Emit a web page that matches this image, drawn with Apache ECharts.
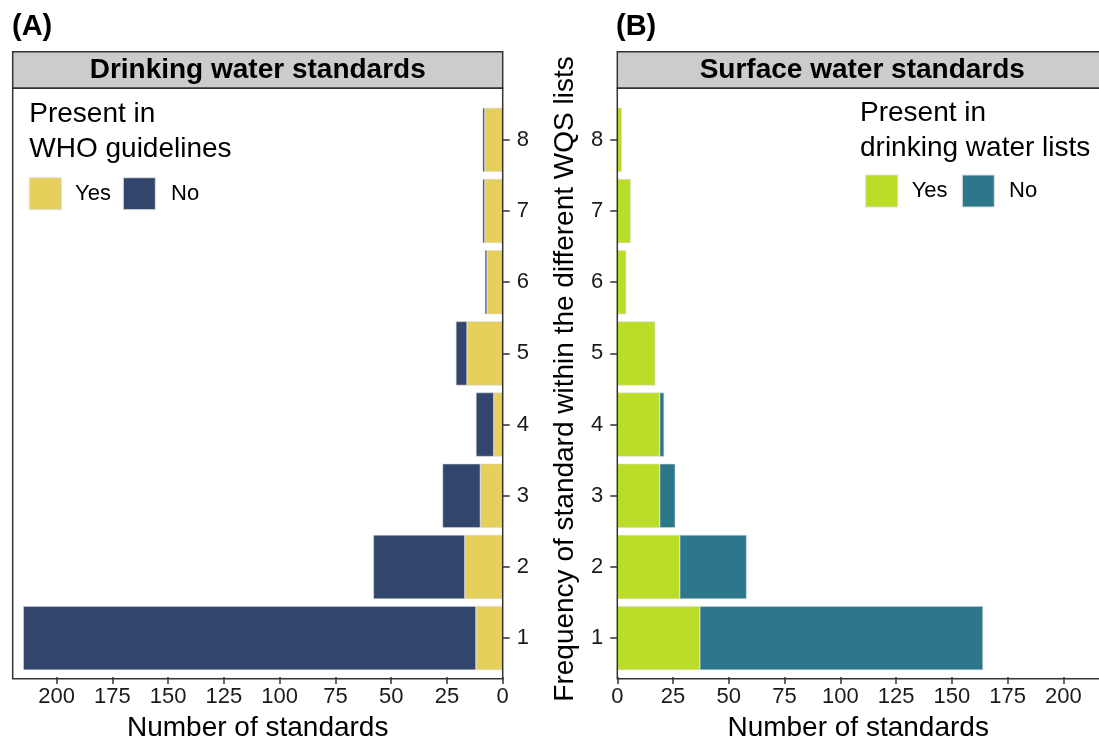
<!DOCTYPE html>
<html>
<head>
<meta charset="utf-8">
<script src="https://cdn.jsdelivr.net/npm/echarts@6/dist/echarts.min.js"></script>
<style>
html,body{margin:0;padding:0;background:#fff;}
#chart{width:1099px;height:747px;}
</style>
</head>
<body>
<div id="chart"></div>
<script>
// ---- data ----
const freqCategories = ['1','2','3','4','5','6','7','8'];
const drinkingYes = [12, 17, 10, 4, 16, 7, 8, 8];
const drinkingNo  = [203, 41, 17, 8, 5, 1, 1, 1];
const surfaceYes  = [37, 28, 19, 19, 17, 4, 6, 2];
const surfaceNo   = [127, 30, 7, 2, 0, 0, 0, 0];
const xTickValues = [0, 25, 50, 75, 100, 125, 150, 175, 200];

const FONT = '"Liberation Sans", Arial, Helvetica, sans-serif';
const C = { yes1:'#E6CF5A', no1:'#32466D', yes2:'#BADE28', no2:'#2C778C', frame:'#333333', strip:'#CCCCCC' };

const chart = echarts.init(document.getElementById('chart'), null, {renderer:'canvas'});

const panelTop = 88.3, panelBottom = 678.7;
const gridTop = 104.3, gridHeight = 571.1;
const leftX = 12.7, rightX = 617.3, panelW = 490;
const pxPerUnit = 2.23;
const xMaxLeft = panelW / pxPerUnit;
const rightVisibleW = 1099 - rightX;
const xMaxRight = rightVisibleW / pxPerUnit;

function nz(arr){ return arr.map(v => v === 0 ? null : v); }

function xAxisCfg(idx, inverse, maxV){
  return {
    type:'value', gridIndex: idx, min:0, max:maxV, inverse: inverse,
    offset: panelBottom - (gridTop + gridHeight),
    name:'Number of standards', nameLocation:'middle', nameGap: 37,
    nameTextStyle:{fontFamily:FONT, fontSize:28, color:'#000'},
    axisLine:{show:false},
    axisTick:{show:true, length:7, customValues:xTickValues, lineStyle:{color:C.frame, width:1.5}},
    axisLabel:{customValues:xTickValues, fontFamily:FONT, fontSize:22, color:'#1a1a1a', margin:9},
    splitLine:{show:false}
  };
}
function yAxisCfg(idx, pos){
  return {
    type:'category', gridIndex: idx, data: freqCategories, position: pos,
    axisLine:{show:false},
    axisTick:{show:true, alignWithLabel:true, length:7, lineStyle:{color:C.frame, width:1.5}},
    axisLabel:{fontFamily:FONT, fontSize:22, color:'#1a1a1a', margin:14},
    splitLine:{show:false}
  };
}
const barBorder = {borderColor:'rgba(215,215,215,0.9)', borderWidth:0.6};

function legendBlock(x, yTitle1, yTitle2, title2, keyX1, keyY, yesTextX, keyX2, noTextX, cYes, cNo){
  const els = [];
  els.push({type:'text', z:110, style:{text:'Present in', x:x, y:yTitle1, font:'28px '+FONT, fill:'#000', align:'left', verticalAlign:'middle', textAlign:'left', textVerticalAlign:'middle'}});
  els.push({type:'text', z:110, style:{text:title2, x:x, y:yTitle2, font:'28px '+FONT, fill:'#000', align:'left', verticalAlign:'middle', textAlign:'left', textVerticalAlign:'middle'}});
  els.push({type:'rect', z:110, shape:{x:keyX1, y:keyY, width:32, height:32}, style:{fill:cYes, stroke:'#dcdcdc', lineWidth:1}});
  els.push({type:'text', z:110, style:{text:'Yes', x:yesTextX, y:keyY+16, font:'22px '+FONT, fill:'#000', align:'left', verticalAlign:'middle', textAlign:'left', textVerticalAlign:'middle'}});
  els.push({type:'rect', z:110, shape:{x:keyX2, y:keyY, width:32, height:32}, style:{fill:cNo, stroke:'#dcdcdc', lineWidth:1}});
  els.push({type:'text', z:110, style:{text:'No', x:noTextX, y:keyY+16, font:'22px '+FONT, fill:'#000', align:'left', verticalAlign:'middle', textAlign:'left', textVerticalAlign:'middle'}});
  return els;
}

const graphics = [
  {type:'text', z:110, style:{text:'(A)', x:12, y:27, font:'bold 29px '+FONT, fill:'#000', align:'left', verticalAlign:'middle', textAlign:'left', textVerticalAlign:'middle'}},
  {type:'text', z:110, style:{text:'(B)', x:616, y:27, font:'bold 29px '+FONT, fill:'#000', align:'left', verticalAlign:'middle', textAlign:'left', textVerticalAlign:'middle'}},
  {type:'rect', z:105, shape:{x:leftX, y:51.7, width:panelW, height:panelTop-51.7}, style:{fill:C.strip, stroke:C.frame, lineWidth:1.5}},
  {type:'rect', z:105, shape:{x:rightX, y:51.7, width:panelW, height:panelTop-51.7}, style:{fill:C.strip, stroke:C.frame, lineWidth:1.5}},
  {type:'text', z:110, style:{text:'Drinking water standards', x:leftX+panelW/2, y:70.5, font:'bold 28px '+FONT, fill:'#000', align:'center', verticalAlign:'middle', textAlign:'center', textVerticalAlign:'middle'}},
  {type:'text', z:110, style:{text:'Surface water standards', x:rightX+panelW/2, y:70.5, font:'bold 28px '+FONT, fill:'#000', align:'center', verticalAlign:'middle', textAlign:'center', textVerticalAlign:'middle'}},
  {type:'rect', z:105, shape:{x:leftX, y:panelTop, width:panelW, height:panelBottom-panelTop}, style:{fill:'none', stroke:C.frame, lineWidth:1.5}},
  {type:'rect', z:105, shape:{x:rightX, y:panelTop, width:panelW, height:panelBottom-panelTop}, style:{fill:'none', stroke:C.frame, lineWidth:1.5}},
  {type:'text', z:110, x:565, y:379, rotation:Math.PI/2, style:{text:'Frequency of standard within the different WQS lists', x:0, y:0, font:'28px '+FONT, fill:'#000', align:'center', verticalAlign:'middle', textAlign:'center', textVerticalAlign:'middle'}}
].concat(
  legendBlock(29.3, 114, 149, 'WHO guidelines', 29.3, 177.7, 75, 123.3, 171, C.yes1, C.no1),
  legendBlock(860, 113, 148, 'drinking water lists', 865.7, 175, 911.7, 962.3, 1009, C.yes2, C.no2)
);

const option = {
  backgroundColor:'#ffffff',
  animation:false,
  textStyle:{fontFamily:FONT},
  grid:[
    {left:leftX, top:gridTop, width:panelW, height:gridHeight, containLabel:false},
    {left:rightX, top:gridTop, width:rightVisibleW, height:gridHeight, containLabel:false}
  ],
  xAxis:[ xAxisCfg(0, true, xMaxLeft), xAxisCfg(1, false, xMaxRight) ],
  yAxis:[ yAxisCfg(0, 'right'), yAxisCfg(1, 'left') ],
  series:[
    {type:'bar', name:'Yes', xAxisIndex:0, yAxisIndex:0, stack:'dw', barCategoryGap:'10%', data:nz(drinkingYes), itemStyle:Object.assign({color:C.yes1}, barBorder)},
    {type:'bar', name:'No',  xAxisIndex:0, yAxisIndex:0, stack:'dw', barCategoryGap:'10%', data:nz(drinkingNo),  itemStyle:Object.assign({color:C.no1}, barBorder)},
    {type:'bar', name:'Yes', xAxisIndex:1, yAxisIndex:1, stack:'sw', barCategoryGap:'10%', data:nz(surfaceYes), itemStyle:Object.assign({color:C.yes2}, barBorder)},
    {type:'bar', name:'No',  xAxisIndex:1, yAxisIndex:1, stack:'sw', barCategoryGap:'10%', data:nz(surfaceNo),  itemStyle:Object.assign({color:C.no2}, barBorder)}
  ],
  graphic: graphics
};
chart.setOption(option);
</script>
</body>
</html>
